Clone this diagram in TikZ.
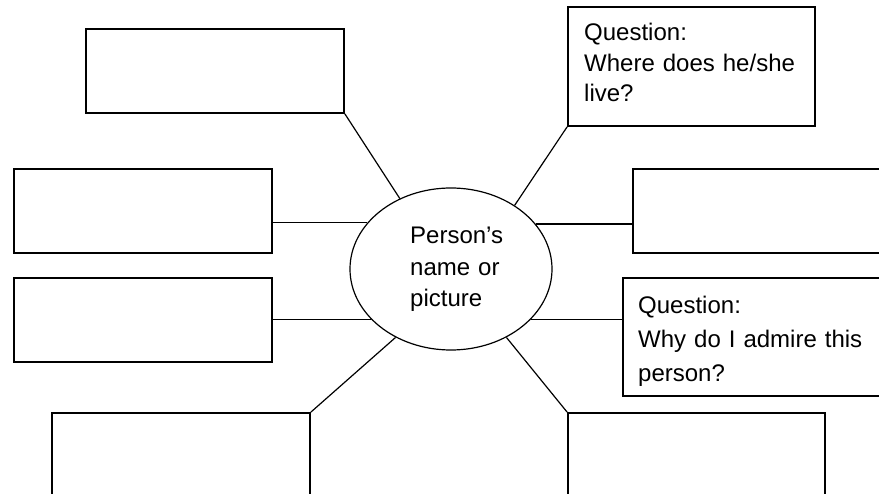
\documentclass[tikz,border=0pt]{standalone}
\usepackage{fontspec}
\setmainfont{Liberation Sans}
\usetikzlibrary{shapes.geometric}

\begin{document}
\begin{tikzpicture}[x=1pt, y=-1pt,
  box/.style={draw, line width=1.8pt, rectangle, inner sep=0pt},
  hub/.style={draw, line width=1.2pt, ellipse, inner sep=0pt,
    minimum width=202pt, minimum height=162pt},
  spoke/.style={line width=1.2pt},
  txt/.style={anchor=base west, inner sep=0pt, align=left, text width=240pt},
  ]
  \useasboundingbox (0,0) rectangle (879,494);
  \clip (0,0) rectangle (879,494);

  % central ellipse
  \node[hub] (c) at (451,269) {};
  \node[txt, text width=110pt, font=\fontsize{24}{31.5}\selectfont] (ctext) at (410,244)
    {Person’s\\name or\\picture};

  % surrounding boxes
  \node[box, minimum width=258pt, minimum height=84pt]  (b1) at (215,71) {};
  \node[box, minimum width=247pt, minimum height=119pt] (b2) at (691.5,66.5) {};
  \node[box, minimum width=258pt, minimum height=84pt]  (b3) at (143,211) {};
  \node[box, minimum width=258pt, minimum height=84pt]  (b4) at (762,211) {};
  \node[box, minimum width=258pt, minimum height=84pt]  (b5) at (143,320) {};
  \node[box, minimum width=258pt, minimum height=118pt] (b6) at (752,337) {};
  \node[box, minimum width=258pt, minimum height=84pt]  (b7) at (181,455) {};
  \node[box, minimum width=257pt, minimum height=84pt]  (b8) at (696.5,455) {};

  % question texts
  \node[txt, font=\fontsize{24}{30.5}\selectfont] (q1) at (584,41)
    {Question:\\Where does he/she\\live?};
  \node[txt, font=\fontsize{24}{34}\selectfont] (q2) at (638,314)
    {Question:\\Why do I admire this\\person?};

  % spokes
  \draw[spoke] (b1.south east) -- (c.126.9);
  \draw[spoke] (b2.south west) -- (c.45);
  \draw[spoke] (c.151.8) -- (c.151.8 -| b3.east);
  \draw[spoke] (c.212) -- (c.212 -| b5.east);
  \draw[spoke] (c.28.2) -- (c.28.2 -| b4.west);
  \draw[spoke] (c.328) -- (c.328 -| b6.west);
  \draw[spoke] (b7.north east) -- (c.231.2);
  \draw[spoke] (b8.north west) -- (c.309.2);
\end{tikzpicture}
\end{document}
